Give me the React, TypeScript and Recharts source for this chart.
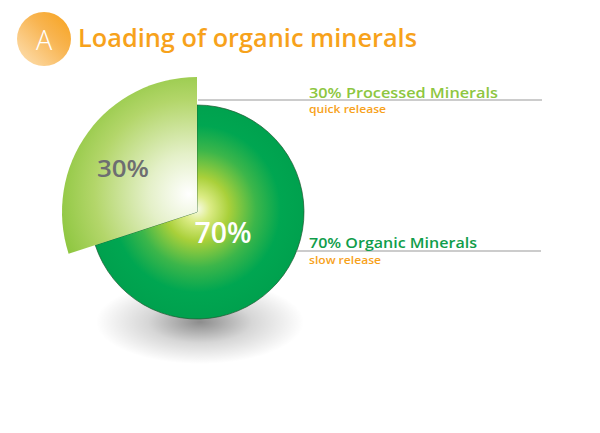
import React from 'react';
import { PieChart, Pie, Cell } from 'recharts';

const categories = ['Processed Minerals', 'Organic Minerals'];
const values = [30, 70];
const releaseLabels = ['quick release', 'slow release'];
const titleText = 'Loading of organic minerals';
const badgeText = 'A';

const data = categories.map((name, i) => ({ name, value: values[i], release: releaseLabels[i] }));

const W = 600;
const H = 433;
const CX = 197;
const CY = 212;
const R_BIG = 135;
const R_MAIN = 107;
const LINE_END = 542;
const FONT = '"Open Sans", Lato, "Noto Sans", sans-serif';
const GREEN_LIGHT = '#8dc63f';
const GREEN_DARK = '#0f9d4a';
const ORANGE = '#f7a21b';

const bigLabel = (p: any) => {
  const { cx, cy, index } = p;
  if (index !== 0) return null;
  const d = data[0];
  const ly = cy - 112;
  return (
    <g>
      <text x={cx - 74} y={cy - 44} fill="#6d6e71" fontSize={23} fontFamily={FONT} fontWeight={600}
        textAnchor="middle" dominantBaseline="central" textLength={52} lengthAdjust="spacingAndGlyphs">{`${d.value}%`}</text>
      <line x1={cx + 1} y1={ly} x2={LINE_END} y2={ly} stroke="#9a9a9a" strokeWidth={1.2} />
      <text x={cx + 112} y={ly - 2.5} fill={GREEN_LIGHT} fontSize={15} fontFamily={FONT} fontWeight={600}
        textLength={189} lengthAdjust="spacingAndGlyphs">{`${d.value}% ${d.name}`}</text>
      <text x={cx + 112} y={ly + 12.5} fill={ORANGE} fontSize={11} fontFamily={FONT} fontWeight={600}
        textLength={77} lengthAdjust="spacingAndGlyphs">{d.release}</text>
    </g>
  );
};

const mainLabel = (p: any) => {
  const { cx, cy, index } = p;
  if (index !== 1) return null;
  const d = data[1];
  const dy = 39;
  const ly = cy + dy;
  const x1 = cx + Math.sqrt(R_MAIN * R_MAIN - dy * dy);
  return (
    <g>
      <text x={cx + 26} y={cy + 20} fill="#ffffff" fontSize={28} fontFamily={FONT} fontWeight={600}
        textAnchor="middle" dominantBaseline="central" textLength={57} lengthAdjust="spacingAndGlyphs">{`${d.value}%`}</text>
      <line x1={x1} y1={ly} x2={LINE_END - 1} y2={ly} stroke="#9a9a9a" strokeWidth={1.2} />
      <text x={cx + 112} y={ly - 3} fill={GREEN_DARK} fontSize={15} fontFamily={FONT} fontWeight={600}
        textLength={168} lengthAdjust="spacingAndGlyphs">{`${d.value}% ${d.name}`}</text>
      <text x={cx + 112} y={ly + 12.5} fill={ORANGE} fontSize={11} fontFamily={FONT} fontWeight={600}
        textLength={72} lengthAdjust="spacingAndGlyphs">{d.release}</text>
    </g>
  );
};

export default function App() {
  return (
    <div style={{ position: 'absolute', left: 0, top: 0, width: W, height: H, background: '#fff' }}>
      <PieChart width={W} height={H} margin={{ top: 0, right: 0, bottom: 0, left: 0 }}>
        <defs>
          <radialGradient id="gBig" gradientUnits="userSpaceOnUse" cx={CX - 8} cy={CY - 18} r={R_BIG}>
            <stop offset="0" stopColor="#ffffff" />
            <stop offset="0.3" stopColor="#e4f0c8" />
            <stop offset="0.7" stopColor="#b3d66a" />
            <stop offset="1" stopColor="#8dc63f" />
          </radialGradient>
          <radialGradient id="gMain" gradientUnits="userSpaceOnUse" cx={CX} cy={CY - 3} r={R_MAIN}>
            <stop offset="0" stopColor="#f8fbe8" />
            <stop offset="0.12" stopColor="#dcec86" />
            <stop offset="0.3" stopColor="#a9d03a" />
            <stop offset="0.55" stopColor="#3cb64a" />
            <stop offset="0.78" stopColor="#00a651" />
            <stop offset="1" stopColor="#00a14e" />
          </radialGradient>
          <radialGradient id="gShadow" cx="0.5" cy="0.5" r="0.5">
            <stop offset="0" stopColor="#000" stopOpacity={0.45} />
            <stop offset="0.5" stopColor="#000" stopOpacity={0.16} />
            <stop offset="1" stopColor="#000" stopOpacity={0} />
          </radialGradient>
          <linearGradient id="gBadge" x1="0" y1="1" x2="1" y2="0">
            <stop offset="0" stopColor="#fde2b8" />
            <stop offset="0.6" stopColor="#f8b450" />
            <stop offset="1" stopColor="#f7a21b" />
          </linearGradient>
        </defs>
        <ellipse cx={CX + 3} cy={CY + 110} rx={104} ry={42} fill="url(#gShadow)" />
        <circle cx={44} cy={39} r={27} fill="url(#gBadge)" />
        <text x={44} y={39} fill="#fff" fontSize={27} fontFamily={FONT} fontWeight={300}
          textAnchor="middle" dominantBaseline="central">{badgeText}</text>
        <text x={78} y={47} fill={ORANGE} fontSize={25} fontFamily={FONT} fontWeight={600}
          textLength={339} lengthAdjust="spacingAndGlyphs">{titleText}</text>
        <Pie data={data} dataKey="value" nameKey="name" cx={CX} cy={CY} outerRadius={R_MAIN}
          startAngle={90} endAngle={450} isAnimationActive={false} label={mainLabel} labelLine={false}>
          <Cell fill="none" stroke="none" />
          <Cell fill="url(#gMain)" stroke="#1e5a30" strokeWidth={0.7} />
        </Pie>
        <Pie data={data} dataKey="value" nameKey="name" cx={CX} cy={CY} outerRadius={R_BIG}
          startAngle={90} endAngle={450} isAnimationActive={false} label={bigLabel} labelLine={false}>
          <Cell fill="url(#gBig)" stroke="none" />
          <Cell fill="none" stroke="none" />
        </Pie>
      </PieChart>
    </div>
  );
}
